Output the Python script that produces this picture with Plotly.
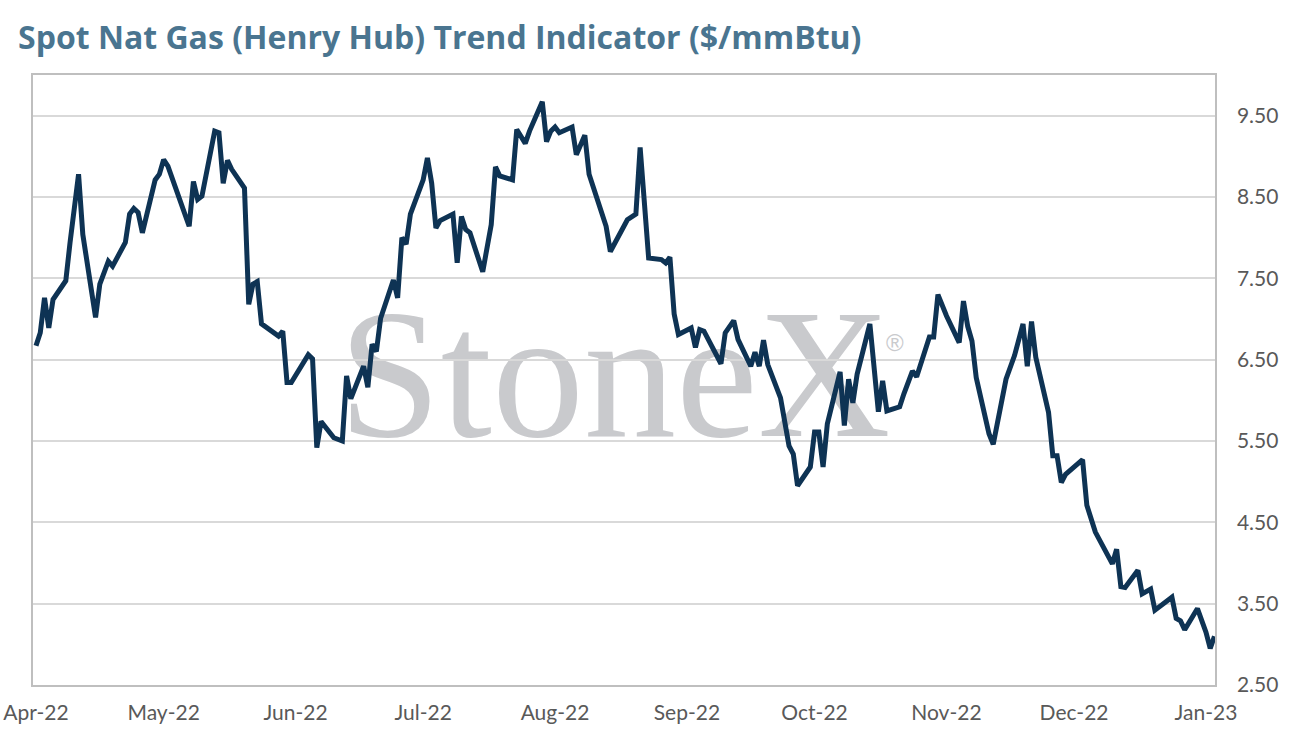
import plotly.graph_objects as go

# Henry Hub spot
dates = [
    "2022-04-01", "2022-04-02", "2022-04-03", "2022-04-04", "2022-04-05", "2022-04-08", "2022-04-09",
    "2022-04-11", "2022-04-12", "2022-04-15", "2022-04-16", "2022-04-18", "2022-04-19", "2022-04-22",
    "2022-04-23", "2022-04-24", "2022-04-25", "2022-04-26", "2022-04-29", "2022-04-30",
    "2022-05-01", "2022-05-02", "2022-05-07", "2022-05-08", "2022-05-09", "2022-05-10", "2022-05-13",
    "2022-05-14", "2022-05-15", "2022-05-16", "2022-05-17", "2022-05-20", "2022-05-21", "2022-05-22",
    "2022-05-23", "2022-05-24", "2022-05-28", "2022-05-29", "2022-05-30", "2022-05-31",
    "2022-06-04", "2022-06-05", "2022-06-06", "2022-06-07", "2022-06-10", "2022-06-12", "2022-06-13",
    "2022-06-14", "2022-06-17", "2022-06-18", "2022-06-19", "2022-06-20", "2022-06-21", "2022-06-24",
    "2022-06-25", "2022-06-26", "2022-06-27", "2022-06-28",
    "2022-07-01", "2022-07-02", "2022-07-03", "2022-07-04", "2022-07-05", "2022-07-08", "2022-07-09",
    "2022-07-10", "2022-07-11", "2022-07-12", "2022-07-15", "2022-07-17", "2022-07-18", "2022-07-19",
    "2022-07-22", "2022-07-23", "2022-07-25", "2022-07-26", "2022-07-29", "2022-07-30", "2022-07-31",
    "2022-08-01", "2022-08-02", "2022-08-05", "2022-08-06", "2022-08-08", "2022-08-09", "2022-08-13",
    "2022-08-14", "2022-08-18", "2022-08-20", "2022-08-21", "2022-08-23", "2022-08-26", "2022-08-27",
    "2022-08-28", "2022-08-29", "2022-08-30",
    "2022-09-02", "2022-09-03", "2022-09-04", "2022-09-05", "2022-09-09", "2022-09-10", "2022-09-12",
    "2022-09-13", "2022-09-16", "2022-09-17", "2022-09-18", "2022-09-19", "2022-09-20", "2022-09-23",
    "2022-09-25", "2022-09-26", "2022-09-27", "2022-09-30",
    "2022-10-01", "2022-10-02", "2022-10-03", "2022-10-04", "2022-10-07", "2022-10-08", "2022-10-09",
    "2022-10-10", "2022-10-11", "2022-10-14", "2022-10-16", "2022-10-17", "2022-10-18", "2022-10-21",
    "2022-10-22", "2022-10-24", "2022-10-25", "2022-10-28", "2022-10-29", "2022-10-30",
    "2022-11-01", "2022-11-04", "2022-11-05", "2022-11-06", "2022-11-07", "2022-11-08", "2022-11-11",
    "2022-11-12", "2022-11-15", "2022-11-17", "2022-11-19", "2022-11-20", "2022-11-21", "2022-11-22",
    "2022-11-25", "2022-11-26", "2022-11-27", "2022-11-28", "2022-11-29",
    "2022-12-03", "2022-12-04", "2022-12-05", "2022-12-06", "2022-12-10", "2022-12-11", "2022-12-12",
    "2022-12-13", "2022-12-16", "2022-12-17", "2022-12-19", "2022-12-20", "2022-12-24", "2022-12-25",
    "2022-12-26", "2022-12-27", "2022-12-30",
    "2023-01-01", "2023-01-02", "2023-01-03",
]
prices = [
    6.67, 6.83, 7.26, 6.89, 7.24, 7.47, 7.94,
    8.78, 8.04, 7.02, 7.43, 7.71, 7.65, 7.94,
    8.29, 8.36, 8.31, 8.06, 8.71, 8.78,
    8.96, 8.88, 8.14, 8.69, 8.47, 8.51, 9.31,
    9.29, 8.67, 8.95, 8.84, 8.61, 7.18, 7.43,
    7.46, 6.94, 6.79, 6.85, 6.22, 6.22,
    6.56, 6.51, 5.42, 5.74, 5.54, 5.50, 6.30,
    6.02, 6.42, 6.16, 6.69, 6.60, 7.01, 7.48,
    7.26, 8.00, 7.92, 8.29,
    8.71, 8.98, 8.67, 8.12, 8.21, 8.29, 7.69,
    8.26, 8.10, 8.06, 7.58, 8.16, 8.87, 8.76,
    8.71, 9.33, 9.16, 9.31, 9.67, 9.18, 9.31,
    9.36, 9.29, 9.36, 9.02, 9.26, 8.78, 8.14,
    7.83, 8.22, 8.29, 9.11, 7.75, 7.73, 7.69,
    7.76, 7.06, 6.81,
    6.89, 6.65, 6.87, 6.85, 6.45, 6.83, 6.98,
    6.75, 6.42, 6.59, 6.42, 6.74, 6.44, 6.03,
    5.44, 5.34, 4.95, 5.18,
    5.61, 5.61, 5.18, 5.71, 6.35, 5.69, 6.26,
    5.97, 6.32, 6.94, 5.86, 6.24, 5.87, 5.92,
    6.08, 6.36, 6.29, 6.78, 6.78, 7.30,
    7.04, 6.71, 7.22, 6.91, 6.73, 6.28, 5.59,
    5.46, 6.26, 6.55, 6.94, 6.42, 6.97, 6.53,
    5.85, 5.32, 5.32, 4.99, 5.09,
    5.27, 4.71, 4.54, 4.38, 3.99, 4.17, 3.71,
    3.70, 3.91, 3.62, 3.68, 3.42, 3.58, 3.32,
    3.29, 3.18, 3.44,
    3.15, 2.95, 3.10,
]

month_ticks = ["2022-04-01", "2022-05-01", "2022-06-01", "2022-07-01", "2022-08-01",
               "2022-09-01", "2022-10-01", "2022-11-01", "2022-12-01", "2023-01-01"]
price_ticks = [2.5, 3.5, 4.5, 5.5, 6.5, 7.5, 8.5, 9.5]

TICK_FONT = "Lato"
TITLE_FONT = "Open Sans"
BORDER = "#bfbfbf"
GRID = "#d9d9d9"
WATERMARK = "#c9cacd"

fig = go.Figure()
fig.add_scatter(
    x=dates,
    y=prices,
    mode="lines",
    line=dict(color="#0e3354", width=5),
    name="Henry Hub",
    hoverinfo="x+y",
)

# StoneX watermark, kept under the gridlines
fig.add_shape(
    type="rect", xref="paper", yref="paper",
    x0=0.25, x1=0.734, y0=0.392, y1=0.692,
    line=dict(width=0), fillcolor="rgba(0,0,0,0)", layer="below",
    label=dict(text="StoneX", textposition="middle center",
               font=dict(family="Liberation Serif", size=184, color=WATERMARK)),
)
fig.add_annotation(
    xref="paper", yref="paper", x=0.739, y=0.562,
    text="®", showarrow=False,
    font=dict(family="Liberation Sans", size=24, color=WATERMARK),
)

fig.update_layout(
    width=1294,
    height=744,
    margin=dict(l=33, r=79, t=75, b=59),
    paper_bgcolor="white",
    plot_bgcolor="rgba(0,0,0,0)",
    showlegend=False,
    font=dict(family=TICK_FONT, size=21, color="#595959"),
    title=dict(
        text="<b>Spot Nat Gas (Henry Hub) Trend Indicator ($/mmBtu)</b>",
        x=18 / 1294, xanchor="left",
        y=1 - 38 / 744, yanchor="middle",
        font=dict(family=TITLE_FONT, size=32, color="#4a7590"),
    ),
)
fig.update_xaxes(
    type="date",
    range=["2022-03-31 07:00", "2023-01-03 03:00"],
    tickvals=month_ticks,
    tickformat="%b-%y",
    showgrid=False,
    showline=True, mirror=True, linecolor=BORDER, linewidth=1.5,
    ticks="", ticklabelstandoff=8,
    zeroline=False, automargin=False,
)
fig.update_yaxes(
    side="right",
    range=[2.5, 10.0],
    tickvals=price_ticks,
    tickformat=".2f",
    showgrid=True, gridcolor=GRID, gridwidth=1.5,
    showline=True, mirror=True, linecolor=BORDER, linewidth=1.5,
    ticks="", ticklabelstandoff=16,
    zeroline=False, automargin=False,
)

# the page's default 8px body margin would shift the chart
fig.write_html(
    "out.html",
    config={"displayModeBar": False},
    post_script="document.body.style.margin='0px';",
)
